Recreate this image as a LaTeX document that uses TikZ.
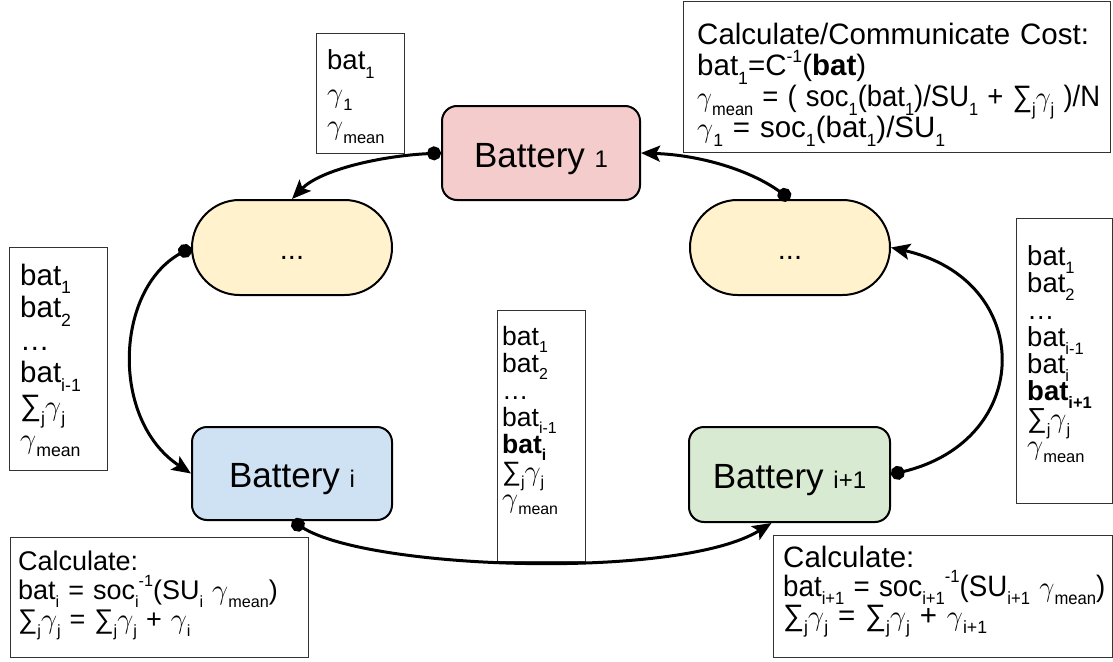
\documentclass[tikz,border=0pt]{standalone}
\usepackage{fontspec}
\setmainfont{Liberation Sans}
\usepackage{graphicx}
\usetikzlibrary{arrows.meta,shapes.misc,calc}
\definecolor{pinkF}{HTML}{F4CCCC}
\definecolor{yelF}{HTML}{FFF2CC}
\definecolor{bluF}{HTML}{CFE2F3}
\definecolor{grnF}{HTML}{D9EAD3}
\newcommand\sbs[1]{\raisebox{-0.3em}{\scalebox{0.6}{#1}}}
\newcommand\sps[1]{\raisebox{0.45em}{\scalebox{0.6}{#1}}}
\newcommand\gm{\scalebox{1.15}{\ensuremath{\gamma}}}
\newcommand\bsz[1]{{\fontsize{24}{28}\selectfont #1}}
\newcommand\nls{\lineskiplimit-100pt\relax}
\newcommand\lfont[2]{\fontsize{#1}{#2}\selectfont\nls}
\begin{document}
\begin{tikzpicture}[x=1pt,y=-1pt,
  batbox/.style={draw=black,line width=2pt,rounded corners=15pt,
    font=\fontsize{35}{40}\selectfont,text height=28pt,text depth=0pt,inner sep=0pt},
  pillbox/.style={rounded rectangle,draw=black,line width=2pt,fill=yelF,
    minimum width=200pt,minimum height=95pt,inner sep=0pt,
    font=\fontsize{29}{34}\selectfont,text height=23pt,text depth=0pt},
  lbox/.style={draw=black!80,line width=1pt,fill=white,anchor=north west,inner sep=0pt},
  ltext/.style={anchor=base west,inner sep=0pt,align=left,text width=600pt},
  conn/.style={line width=3pt,{Circle[length=14pt]}-{Stealth[length=19pt,width=16pt,inset=4pt]}}
]
\useasboundingbox (0,0) rectangle (1113,661);

% label boxes
\node[lbox,minimum width=88pt,minimum height=120pt] (boxTL) at (316,33) {};
\node[lbox,minimum width=427pt,minimum height=151pt] (boxTR) at (683,1) {};
\node[lbox,minimum width=98pt,minimum height=223pt] (boxL) at (9,247) {};
\node[lbox,minimum width=88pt,minimum height=251pt] (boxM) at (497,310) {};
\node[lbox,minimum width=96pt,minimum height=285pt] (boxR) at (1016,218) {};
\node[lbox,minimum width=298pt,minimum height=120pt] (boxBL) at (10,537) {};
\node[lbox,minimum width=339pt,minimum height=122pt] (boxBR) at (773,535) {};

\node[ltext,font={\lfont{27.5}{32.5}}] (tTL) at (327,70)
 {bat\sbs{1}\\ \gm\sbs{1}\\ \gm\sbs{mean}};
\node[ltext,font={\lfont{29.5}{31}}] (tTR) at (697,45)
 {Calculate/Communicate Cost:\\
  bat\sbs{1}=C\sps{-1}(\textbf{bat})\\
  \scalebox{0.93}[1]{\gm\sbs{mean} = ( soc\sbs{1}(bat\sbs{1})/SU\sbs{1} + ∑\sbs{j}\gm\sbs{j} )/N}\\
  \gm\sbs{1} = soc\sbs{1}(bat\sbs{1})/SU\sbs{1}};
\node[ltext,font={\lfont{29.5}{32.6}}] (tL) at (20,285)
 {bat\sbs{1}\\ bat\sbs{2}\\ …\\ bat\sbs{i-1}\\ ∑\sbs{j}\gm\sbs{j}\\ \gm\sbs{mean}};
\node[ltext,font={\lfont{26.5}{27}}] (tM) at (502,345)
 {bat\sbs{1}\\ bat\sbs{2}\\ …\\ bat\sbs{i-1}\\ \textbf{bat\sbs{i}}\\ ∑\sbs{j}\gm\sbs{j}\\ \gm\sbs{mean}};
\node[ltext,font={\lfont{27.5}{27.1}}] (tR) at (1027,265)
 {bat\sbs{1}\\ bat\sbs{2}\\ …\\ bat\sbs{i-1}\\ bat\sbs{i}\\ \textbf{bat\sbs{i+1}}\\ ∑\sbs{j}\gm\sbs{j}\\ \gm\sbs{mean}};
\node[ltext,font={\lfont{27}{29}}] (tBL) at (18,570)
 {Calculate:\\
  bat\sbs{i} = soc\sbs{i}\sps{-1}(SU\sbs{i} \gm\sbs{mean})\\
  ∑\sbs{j}\gm\sbs{j} = ∑\sbs{j}\gm\sbs{j} + \gm\sbs{i}};
\node[ltext,font={\lfont{29.5}{29}}] (tBR) at (783,567)
 {Calculate:\\
  \scalebox{0.94}[1]{bat\sbs{i+1} = soc\sbs{i+1}\sps{-1}(SU\sbs{i+1} \gm\sbs{mean})}\\
  ∑\sbs{j}\gm\sbs{j} = ∑\sbs{j}\gm\sbs{j} + \gm\sbs{i+1}};

% main nodes
\node[batbox,fill=pinkF,minimum width=198pt,minimum height=94pt] (b1) at (541,153) {Battery \bsz{1}};
\node[pillbox] (pL) at (292,247.5) {...};
\node[pillbox] (pR) at (790,247.5) {...};
\node[batbox,fill=bluF,minimum width=200pt,minimum height=93pt] (bi) at (292,473.5) {Battery \bsz{i}};
\node[batbox,fill=grnF,minimum width=201pt,minimum height=95pt] (bip) at (789.5,474.5) {Battery \bsz{i+1}};

% connectors
\draw[conn] (b1.west) .. controls (380,156) and (320,170) .. (pL.north);
\draw[conn] (pL.west) .. controls (115,290) and (110,420) .. (bi.west);
\coordinate (bipin) at ($(bip.south)+(-18,0)$);
\draw[conn] (bi.south) .. controls (370,570) and (680,580) .. (bipin);
\draw[conn] (bip.east) .. controls (1035,440) and (1035,280) .. (pR.east);
\draw[conn] (pR.north) .. controls (750,170) and (700,155) .. (b1.east);
\end{tikzpicture}
\end{document}
